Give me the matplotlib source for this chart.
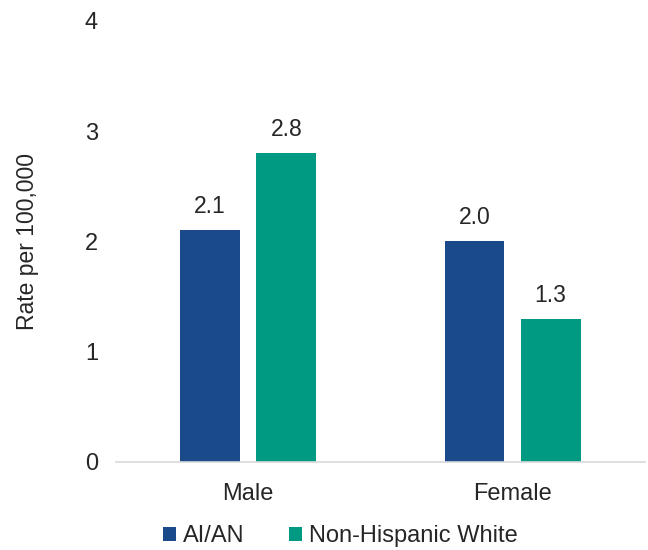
import numpy as np
import matplotlib.pyplot as plt

plt.rcParams['font.family'] = ['Liberation Sans', 'DejaVu Sans']

categories = ['Male', 'Female']
aian = [2.1, 2.0]
nhw = [2.8, 1.3]
series_names = ['AI/AN', 'Non-Hispanic White']
colors = ['#1B4A8A', '#009A83']
yticks = [0, 1, 2, 3, 4]

fig = plt.figure(figsize=(6.48, 5.5), dpi=100)
ax = fig.add_axes([0.179, 0.16, 0.816, 0.802])

x = np.arange(len(categories))
w = 0.226
off = 0.144
b1 = ax.bar(x - off, aian, w, color=colors[0], label=series_names[0])
b2 = ax.bar(x + off, nhw, w, color=colors[1], label=series_names[1])

for bars in (b1, b2):
    for b in bars:
        ax.text(b.get_x() + b.get_width() / 2, b.get_height() + 0.11,
                f'{b.get_height():.1f}', ha='center', va='bottom',
                fontsize=16.5, color='#262626')

ax.set_xlim(-0.5, 1.5)
ax.set_ylim(0, 4)
ax.set_yticks(yticks)
ax.set_xticks(x)
ax.set_xticklabels(categories)
ax.tick_params(axis='both', length=0, labelsize=17, colors='#262626')
ax.tick_params(axis='y', pad=13)
ax.tick_params(axis='x', pad=15)
for s in ['top', 'right', 'left']:
    ax.spines[s].set_visible(False)
ax.spines['bottom'].set_color('#D9D9D9')
ax.spines['bottom'].set_linewidth(1.2)

fig.text(0.043, 0.56, 'Rate per 100,000', rotation=90, ha='center', va='center',
         fontsize=16.5, color='#262626')

fig.legend(loc='center', bbox_to_anchor=(0.525, 0.025), ncol=2, frameon=False,
           fontsize=17, handlelength=0.55, handleheight=0.55, handletextpad=0.3,
           columnspacing=1.9, labelcolor='#262626')

fig.savefig('out.png', dpi=100)
